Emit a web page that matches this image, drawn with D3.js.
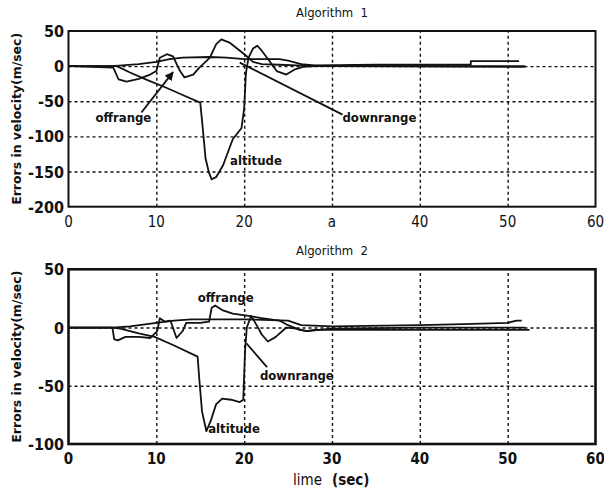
<!DOCTYPE html>
<html>
<head>
<meta charset="utf-8">
<script src="https://cdn.jsdelivr.net/npm/d3@7"></script>
<style>
  body { margin: 0; background: #fff; }
  svg { display: block; }
  .lbl { font-family: "DejaVu Sans", "Liberation Sans", sans-serif; font-stretch: condensed; font-weight: bold; fill: #111; }
  .title { font-family: "DejaVu Sans", "Liberation Sans", sans-serif; font-stretch: condensed; font-size: 13px; fill: #111; }
  .grid line { stroke: #111; stroke-width: 1.4; stroke-dasharray: 3,3; }
  .grid .domain { display: none; }
  .curve { fill: none; stroke: #111; stroke-width: 1.8; stroke-linejoin: round; }
</style>
</head>
<body>
<svg id="chart" width="604" height="496"></svg>
<script>
// ---- data (time in sec, error in m/sec) ----
var xTicks = [0, 10, 20, 30, 40, 50, 60];
var xLabels1 = ["0", "10", "20", "a", "40", "50", "60"];
var xLabels2 = ["0", "10", "20", "30", "40", "50", "60"];
var yTicks1 = [-200, -150, -100, -50, 0, 50];
var yTicks2 = [-100, -50, 0, 50];

// Algorithm 1
var alg1Altitude = [[0,0],[5.5,0],[7,-9],[9,-20],[11,-30],[13,-41],[15,-52],[15.3,-90],[15.6,-131],
  [16,-152],[16.3,-161],[16.8,-158],[17.6,-141],[18.7,-104],[19.7,-88],[20,-60],[20.2,-10],[20.5,12],
  [21,25],[21.5,29],[22,22],[22.9,7],[23.7,-7],[24.8,-12],[25.7,-5],[26.7,-1],[28,0],[52,0]];
var alg1Offrange = [[0,0],[5.1,-2],[5.7,-19],[6.6,-22],[8,-18],[9.3,-12],[10,-7],[10.4,12],[11.2,17],
  [11.9,14],[12.7,-7],[13.2,-16],[14.2,-12],[14.9,-2],[16.1,12],[16.8,31],[17.4,38],[18.4,33],
  [19.3,24],[20.3,14],[21,6],[22,3],[24,2],[26,1],[30,0],[52,-1]];
var alg1Downrange = [[0,0],[5,0],[8,3],[10,6],[11.5,10],[13,12],[16,13],[18,12],[20,10],[24,10],
  [25,8],[26.5,3],[28,1],[35,2],[45.8,2],[45.8,7],[51.3,7]];

// Algorithm 2
var alg2Altitude = [[0,0],[5,0],[5.9,-1],[8,-5],[9.8,-8],[11.9,-15],[14.7,-25],[14.9,-45],[15.2,-72],
  [15.7,-89],[16.2,-80],[16.8,-66],[17.5,-61],[18.5,-62],[19.5,-64],[19.9,-62],[20.1,-20],[20.3,0],
  [20.8,10],[21.5,1],[22,-6],[22.7,-12],[23.6,-8],[24.8,0],[26,-1],[27,-3],[28,-2],[35,-2],[52.5,-2]];
var alg2Offrange = [[0,0],[5,0],[5.2,-10],[5.6,-11],[6.5,-8],[8,-8],[9.3,-9],[10.1,-3],[10.4,8],
  [11,5],[11.6,6],[12.3,-9],[13,-3],[13.4,4],[15,4],[16,5],[16.3,17],[16.7,19],[17.5,15],
  [18.7,12],[20.5,10],[22,8],[24,6],[25,2],[26.3,-2],[27.3,-3],[28.5,-2],[30,-1],[40,0],[52,0]];
var alg2Downrange = [[0,0],[5,0],[7,1],[10,4],[12,6],[14,7],[20,7],[25,6],[26.5,2],[30,1],
  [40,2],[45,3],[50,4],[51,6],[51.6,6]];

// ---- layout ----
var svg = d3.select("#chart");
var x = d3.scaleLinear().domain([0, 60]).range([68.5, 595.5]);

function panel(cfg) {
  var y = d3.scaleLinear().domain(cfg.yDomain).range(cfg.yRange);
  var g = svg.append("g");
  var w = x.range()[1] - x.range()[0];
  var h = cfg.yRange[0] - cfg.yRange[1];

  // dashed grid
  g.append("g").attr("class", "grid")
    .attr("transform", "translate(0," + cfg.yRange[0] + ")")
    .call(d3.axisBottom(x).tickValues(xTicks.slice(1, -1)).tickSize(-h).tickFormat(""));
  g.append("g").attr("class", "grid")
    .attr("transform", "translate(" + x.range()[0] + ",0)")
    .call(d3.axisLeft(y).tickValues(cfg.yTicks.slice(1, -1)).tickSize(-w).tickFormat(""));

  // curves
  var line = d3.line().x(function (d) { return x(d[0]); }).y(function (d) { return y(d[1]); });
  cfg.series.forEach(function (s) {
    g.append("path").attr("class", "curve").attr("d", line(s));
  });

  // frame
  g.append("rect")
    .attr("x", x.range()[0]).attr("y", cfg.yRange[1])
    .attr("width", w).attr("height", h)
    .attr("fill", "none").attr("stroke", "#111").attr("stroke-width", cfg.frame);

  // tick labels
  g.selectAll(".yt").data(cfg.yTicks).enter().append("text")
    .attr("class", "lbl").attr("x", 64).attr("y", function (d) { return y(d) + 6; })
    .attr("text-anchor", "end").style("font-size", "16px")
    .text(function (d) { return d; });
  g.selectAll(".xt").data(xTicks).enter().append("text")
    .attr("class", "lbl").attr("x", function (d) { return x(d); })
    .attr("y", cfg.yRange[0] + 20).attr("text-anchor", "middle")
    .style("font-size", "15px").style("font-weight", cfg.xWeight)
    .text(function (d, i) { return cfg.xLabels[i]; });

  // title and y label
  svg.append("text").attr("class", "title")
    .attr("x", x(30)).attr("y", cfg.yRange[1] - 14).attr("text-anchor", "middle")
    .attr("xml:space", "preserve")
    .text(cfg.title);
  svg.append("text").attr("class", "lbl")
    .attr("transform", "translate(21," + (cfg.yRange[0] + cfg.yRange[1]) / 2 + ") rotate(-90)")
    .attr("text-anchor", "middle").style("font-size", "13px")
    .attr("textLength", 172).attr("lengthAdjust", "spacingAndGlyphs")
    .text("Errors in velocity(m/sec)");

  // annotations
  cfg.notes.forEach(function (n) {
    g.append("text").attr("class", "lbl")
      .attr("x", x(n.t)).attr("y", y(n.v) + 5)
      .attr("text-anchor", n.anchor).style("font-size", "13px")
      .text(n.text);
  });
  cfg.leaders.forEach(function (l) {
    g.append("line")
      .attr("x1", x(l[0][0])).attr("y1", y(l[0][1]))
      .attr("x2", x(l[1][0])).attr("y2", y(l[1][1]))
      .attr("stroke", "#111").attr("stroke-width", 1.8)
      .attr("marker-end", l[2] ? "url(#arrow)" : null);
  });
}

svg.append("defs").append("marker")
  .attr("id", "arrow").attr("viewBox", "0 0 10 10")
  .attr("refX", 9).attr("refY", 5)
  .attr("markerWidth", 5).attr("markerHeight", 5)
  .attr("orient", "auto")
  .append("path").attr("d", "M0,0L10,5L0,10z").attr("fill", "#111");

panel({
  title: "Algorithm  1",
  yDomain: [-200, 50], yRange: [206.7, 31], yTicks: yTicks1,
  xLabels: xLabels1, xWeight: "normal", frame: 2,
  series: [alg1Altitude, alg1Offrange, alg1Downrange],
  notes: [
    {text: "offrange", t: 6.25, v: -73, anchor: "middle"},
    {text: "downrange", t: 35.4, v: -73, anchor: "middle"},
    {text: "altitude", t: 18.4, v: -133, anchor: "start"}
  ],
  leaders: [
    [[8.3, -66], [11.9, -8.5], true],
    [[19.5, 5], [31.2, -69], false]
  ]
});

panel({
  title: "Algorithm  2",
  yDomain: [-100, 50], yRange: [444, 269.3], yTicks: yTicks2,
  xLabels: xLabels2, xWeight: "bold", frame: 2.6,
  series: [alg2Altitude, alg2Offrange, alg2Downrange],
  notes: [
    {text: "offrange", t: 17.9, v: 26, anchor: "middle"},
    {text: "downrange", t: 26, v: -41, anchor: "middle"},
    {text: "altitude", t: 15.9, v: -86, anchor: "start"}
  ],
  leaders: [
    [[20.25, -13.5], [22.6, -34], false]
  ]
});

svg.append("text").attr("class", "lbl")
  .attr("x", 293).attr("y", 485).style("font-weight", "normal").style("font-size", "15px")
  .text("lime");
svg.append("text").attr("class", "lbl")
  .attr("x", 332).attr("y", 485).style("font-size", "15px")
  .text("(sec)");
</script>
</body>
</html>
